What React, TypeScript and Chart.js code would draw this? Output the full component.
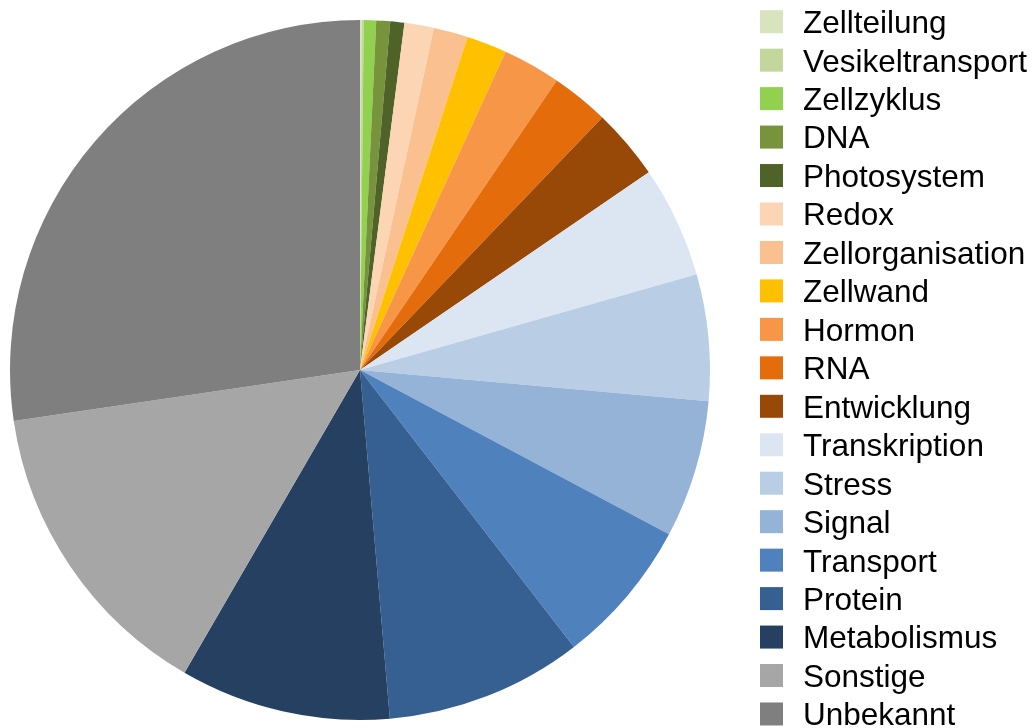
import React, { useEffect, useRef } from "react";
import { Chart, registerables } from "chart.js";

Chart.register(...registerables);

const categories: string[] = [
  "Zellteilung",
  "Vesikeltransport",
  "Zellzyklus",
  "DNA",
  "Photosystem",
  "Redox",
  "Zellorganisation",
  "Zellwand",
  "Hormon",
  "RNA",
  "Entwicklung",
  "Transkription",
  "Stress",
  "Signal",
  "Transport",
  "Protein",
  "Metabolismus",
  "Sonstige",
  "Unbekannt",
];

const shares: number[] = [
  0.07, 0.1, 0.57, 0.64, 0.65, 1.36, 1.58, 1.86, 2.67, 2.67, 3.28, 5.14, 5.83,
  6.36, 6.75, 9.11, 9.72, 14.31, 27.33,
];

const sliceColors: string[] = [
  "#D7E4BD",
  "#C3D69B",
  "#92D050",
  "#77933C",
  "#4F6228",
  "#FCD5B5",
  "#FAC090",
  "#FFC000",
  "#F79646",
  "#E46C0A",
  "#984807",
  "#DCE6F2",
  "#B9CDE5",
  "#95B3D7",
  "#4F81BD",
  "#376092",
  "#254061",
  "#A6A6A6",
  "#7F7F7F",
];

const legendPlugin = {
  id: "sideLegend",
  afterDraw(chart: any) {
    const ctx = chart.ctx;
    const labels: string[] = chart.data.labels;
    const colors: string[] = chart.data.datasets[0].backgroundColor;
    const boxX = 760;
    const boxSize = 23;
    const firstY = 21.7;
    const step = 38.46;
    const textX = 803;
    ctx.save();
    ctx.font = '31.5px "Liberation Sans", Arial, sans-serif';
    ctx.textBaseline = "alphabetic";
    ctx.textAlign = "left";
    labels.forEach((lab, i) => {
      const cy = firstY + step * i;
      ctx.fillStyle = colors[i];
      ctx.fillRect(boxX, cy - boxSize / 2, boxSize, boxSize);
      ctx.fillStyle = "#000000";
      ctx.fillText(lab, textX, cy + 11.4);
    });
    ctx.restore();
  },
};

export default function App() {
  const ref = useRef<HTMLCanvasElement | null>(null);
  useEffect(() => {
    if (!ref.current) return;
    const chart = new Chart(ref.current, {
      type: "pie",
      data: {
        labels: categories,
        datasets: [
          {
            data: shares,
            backgroundColor: sliceColors,
            borderWidth: 0,
          },
        ],
      },
      options: {
        responsive: false,
        animation: false,
        layout: { padding: { left: 10, top: 20, right: 325, bottom: 8 } },
        plugins: {
          legend: { display: false },
          tooltip: { enabled: false },
        },
      },
      plugins: [legendPlugin],
    });
    return () => chart.destroy();
  }, []);
  return (
    <div
      style={{
        position: "absolute",
        left: 0,
        top: 0,
        width: 1035,
        height: 728,
        background: "#ffffff",
      }}
    >
      <canvas ref={ref} width={1035} height={728} />
    </div>
  );
}
